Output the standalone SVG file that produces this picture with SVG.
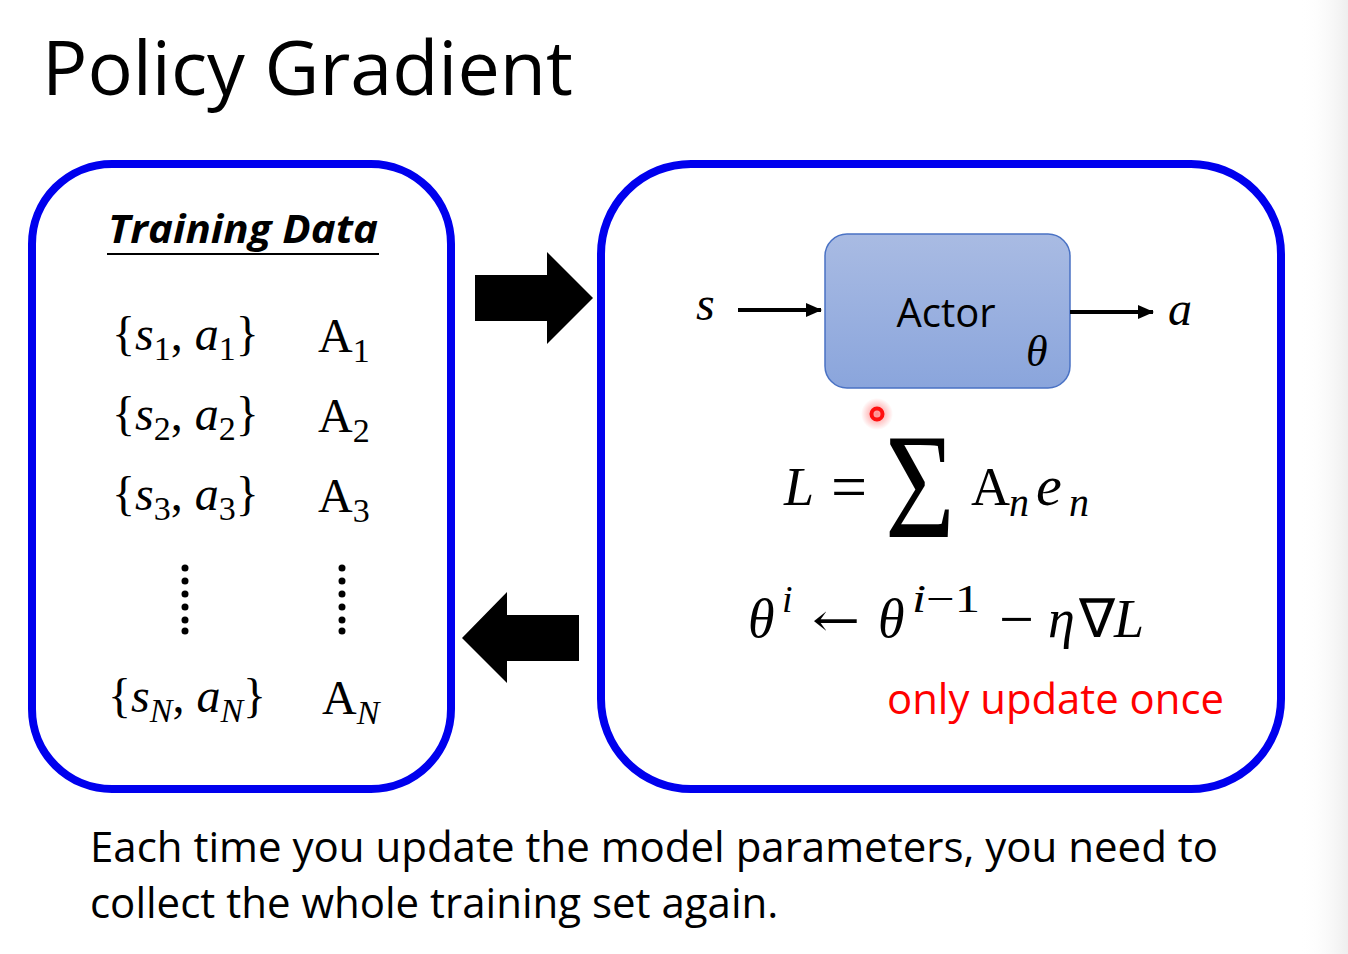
<svg xmlns="http://www.w3.org/2000/svg" width="1348" height="954" viewBox="0 0 1348 954">
<defs>
<linearGradient id="actorFill" x1="0" y1="0" x2="0" y2="1">
<stop offset="0" stop-color="#a9bbe3"/>
<stop offset="1" stop-color="#8aa5dc"/>
</linearGradient>
<linearGradient id="edge" x1="0" y1="0" x2="1" y2="0">
<stop offset="0" stop-color="#ffffff" stop-opacity="0"/>
<stop offset="1" stop-color="#eeeeee"/>
</linearGradient>
<radialGradient id="glow">
<stop offset="0" stop-color="#ff3b3b" stop-opacity="0.6"/>
<stop offset="1" stop-color="#ff3b3b" stop-opacity="0"/>
</radialGradient>
<marker id="ah" markerWidth="16" markerHeight="14" refX="15" refY="7" orient="auto" markerUnits="userSpaceOnUse">
<path d="M0,0 L16,7 L0,14 Z" fill="#000"/>
</marker>
<style>
.frame{fill:none;stroke:#0000ee;stroke-width:8}
.m{font-family:"Liberation Serif",serif}
.i{font-style:italic}
.sub{font-size:34px}
.sans{font-family:"Open Sans","Liberation Sans",sans-serif}
.dot{fill:#000}
</style>
</defs>
<rect width="1348" height="954" fill="#fff"/>
<rect x="1300" y="0" width="48" height="954" fill="url(#edge)"/>

<text x="42" y="95" class="sans" font-size="75" textLength="531" lengthAdjust="spacingAndGlyphs">Policy Gradient</text>

<g id="training-data">
<rect class="frame" x="32" y="164" width="419" height="625" rx="80"/>
<text x="108" y="243" font-family="'Open Sans','Liberation Sans',sans-serif" font-weight="bold" font-style="italic" font-size="40" textLength="270" lengthAdjust="spacingAndGlyphs">Training Data</text>
<line x1="107" y1="254" x2="379" y2="254" stroke="#000" stroke-width="2"/>
<text class="m" font-size="48" x="112" y="350">{<tspan class="i">s</tspan><tspan class="sub" dy="10">1</tspan><tspan dy="-10">, </tspan><tspan class="i">a</tspan><tspan class="sub" dy="10">1</tspan><tspan dy="-10">}</tspan></text>
<text class="m" font-size="48" x="318" y="352">A<tspan class="sub" dy="10">1</tspan></text>
<text class="m" font-size="48" x="112" y="430">{<tspan class="i">s</tspan><tspan class="sub" dy="10">2</tspan><tspan dy="-10">, </tspan><tspan class="i">a</tspan><tspan class="sub" dy="10">2</tspan><tspan dy="-10">}</tspan></text>
<text class="m" font-size="48" x="318" y="432">A<tspan class="sub" dy="10">2</tspan></text>
<text class="m" font-size="48" x="112" y="510">{<tspan class="i">s</tspan><tspan class="sub" dy="10">3</tspan><tspan dy="-10">, </tspan><tspan class="i">a</tspan><tspan class="sub" dy="10">3</tspan><tspan dy="-10">}</tspan></text>
<text class="m" font-size="48" x="318" y="512">A<tspan class="sub" dy="10">3</tspan></text>
<g>
<circle class="dot" cx="185" cy="568" r="3.5"/><circle class="dot" cx="185" cy="581" r="3.5"/><circle class="dot" cx="185" cy="594" r="3.5"/><circle class="dot" cx="185" cy="607" r="3.5"/><circle class="dot" cx="185" cy="620" r="3.5"/><circle class="dot" cx="185" cy="631" r="3.5"/>
<circle class="dot" cx="342" cy="568" r="3.5"/><circle class="dot" cx="342" cy="581" r="3.5"/><circle class="dot" cx="342" cy="594" r="3.5"/><circle class="dot" cx="342" cy="607" r="3.5"/><circle class="dot" cx="342" cy="620" r="3.5"/><circle class="dot" cx="342" cy="631" r="3.5"/>
</g>
<text class="m" font-size="48" x="108" y="712">{<tspan class="i">s</tspan><tspan class="sub i" dy="10">N</tspan><tspan dy="-10">, </tspan><tspan class="i">a</tspan><tspan class="sub i" dy="10">N</tspan><tspan dy="-10">}</tspan></text>
<text class="m" font-size="48" x="322" y="714">A<tspan class="sub i" dy="10">N</tspan></text>
</g>

<g id="update-box">
<rect class="frame" x="601" y="164" width="680" height="625" rx="90"/>
<text class="m i" x="696" y="320" font-size="48">s</text>
<text class="m i" x="1168" y="325" font-size="48">a</text>
<g id="actor">
<rect x="825" y="234" width="245" height="154" rx="22" fill="url(#actorFill)" stroke="#4a72c4" stroke-width="1.5"/>
<text class="sans" x="946" y="327" font-size="40" text-anchor="middle">Actor</text>
<text class="m i" x="1026" y="366" font-size="44">θ</text>
</g>
<g id="loss">
<text class="m i" x="784" y="505" font-size="54">L</text>
<text class="m" x="831" y="508" font-size="64">=</text>
<text class="m" font-size="150" transform="translate(885,537) scale(0.8,1)">Σ</text>
<text class="m" x="971" y="505" font-size="54">A</text>
<text class="m i" x="1009" y="516" font-size="40">n</text>
<text class="m i" x="1036" y="505" font-size="58">e</text>
<text class="m i" x="1069" y="516" font-size="40">n</text>
</g>
<g id="update-rule">
<text class="m i" x="748" y="637" font-size="54">θ</text>
<text class="m i" x="782" y="612" font-size="38">i</text>
<text x="812" y="636" font-size="46" font-family="'DejaVu Serif',serif" textLength="48" lengthAdjust="spacingAndGlyphs">←</text>
<text class="m i" x="878" y="637" font-size="54">θ</text>
<text class="m" x="912" y="612" font-size="40" textLength="68" lengthAdjust="spacingAndGlyphs"><tspan class="i">i</tspan>−1</text>
<text class="m" x="999" y="640" font-size="62">−</text>
<text class="m i" x="1048" y="637" font-size="54">η</text>
<text class="m" x="1079" y="637" font-size="54">∇</text>
<text class="m i" x="1114" y="637" font-size="54">L</text>
</g>
<text class="sans" x="887" y="714" font-size="42" fill="#ff0000" textLength="337" lengthAdjust="spacingAndGlyphs">only update once</text>
</g>

<g id="connectors">
<path d="M475,275 H547 V252 L593,298 L547,344 V321 H475 Z" fill="#000"/>
<path d="M579,615 H507 V592 L462,638 L507,683 V661 H579 Z" fill="#000"/>
<line x1="738" y1="310" x2="821" y2="310" stroke="#000" stroke-width="4" marker-end="url(#ah)"/>
<line x1="1070" y1="312" x2="1153" y2="312" stroke="#000" stroke-width="4" marker-end="url(#ah)"/>
</g>

<circle cx="877" cy="414" r="16" fill="url(#glow)"/>
<circle cx="877" cy="414" r="5.5" fill="none" stroke="#ff1010" stroke-width="4"/>

<text class="sans" x="90" y="862" font-size="42" textLength="1128" lengthAdjust="spacingAndGlyphs">Each time you update the model parameters, you need to</text>
<text class="sans" x="90" y="918" font-size="42">collect the whole training set again.</text>
</svg>
